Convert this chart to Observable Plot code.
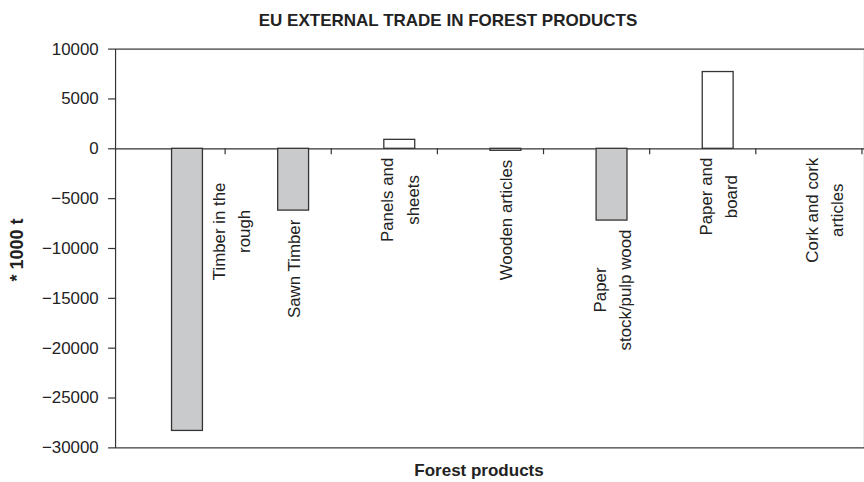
<!DOCTYPE html>
<html>
<head>
<meta charset="utf-8">
<script src="https://cdn.jsdelivr.net/npm/d3@7"></script>
<script src="https://cdn.jsdelivr.net/npm/@observablehq/plot@0.6"></script>
<style>
  html, body { margin: 0; padding: 0; background: #fff; }
  #wrap { position: relative; width: 864px; height: 482px; overflow: hidden; background: #fff;
          font-family: "Liberation Sans", Arial, sans-serif; color: #222; }
  #chart { position: absolute; left: 0; top: 0; }
  .lbl { position: absolute; font-weight: bold; line-height: 1; white-space: nowrap; color: #222; }
  #title { left: 148px; width: 600px; text-align: center; top: 11.5px; font-size: 17px; }
  #xlabel { left: 179px; width: 600px; text-align: center; top: 461.5px; font-size: 17px; }
  #ylabel { left: 17px; top: 250px; font-size: 18px; transform: translate(-50%, -50%) rotate(-90deg); }
</style>
</head>
<body>
<div id="wrap">
  <div id="chart"></div>
  <div class="lbl" id="title">EU EXTERNAL TRADE IN FOREST PRODUCTS</div>
  <div class="lbl" id="xlabel">Forest products</div>
  <div class="lbl" id="ylabel">* 1000 t</div>
</div>
<script>
// ---- data ----
const categories = [
  "Timber in the\nrough",
  "Sawn Timber",
  "Panels and\nsheets",
  "Wooden articles",
  "Paper\nstock/pulp wood",
  "Paper and\nboard",
  "Cork and cork\narticles"
];
const values = [-28300, -6200, 900, -200, -7200, 7700, 0];
const yTicks = [10000, 5000, 0, -5000, -10000, -15000, -20000, -25000, -30000];
const yDomain = [-30000, 10000];

// ---- layout ----
const W = 871, H = 482, mL = 116, mR = 0, mT = 49, mB = 31;
const bw = (W - mL - mR) / categories.length;
const barW = 32;
const font = "Liberation Sans";
const ink = "#222", line = "#333", gray = "#c9cacc";

const rows = categories.map((c, i) => ({cat: c, value: values[i]}));

// y scale for label placement
const yScale = Plot.scale({y: {domain: yDomain, range: [H - mB, mT]}});
const ctx = document.createElement("canvas").getContext("2d");
ctx.font = `17px "${font}"`;
const gap = 9;
const labels = rows.map(d => {
  const lines = d.cat.split("\n");
  const maxLen = Math.max(...lines.map(l => ctx.measureText(l).width));
  const beside = d.value <= -15000;
  const anchor = (d.value < 0 && !beside) ? d.value : 0;
  const topPx = yScale.apply(anchor) + gap;
  return {cat: d.cat, beside, yc: yScale.invert(topPx + maxLen / 2)};
});

const plot = Plot.plot({
  width: W, height: H,
  marginLeft: mL, marginRight: mR, marginTop: mT, marginBottom: mB,
  style: {fontFamily: font, fontSize: "17px", color: ink, background: "white"},
  x: {domain: categories, padding: 0, axis: null},
  y: {domain: yDomain, axis: null},
  marks: [
    Plot.frame({stroke: line, strokeWidth: 1.2}),
    Plot.axisY({ticks: yTicks, tickFormat: d3.format("d"), tickSize: 7, tickPadding: 10,
                fontSize: 17, fill: ink, stroke: line, strokeWidth: 1.2, label: null}),
    Plot.ruleY([0], {stroke: line, strokeWidth: 1.2}),
    Plot.barY(rows, {x: "cat", y: "value",
      fill: d => d.value < 0 ? gray : "white",
      stroke: line, strokeWidth: 1.3,
      insetLeft: bw / 2, insetRight: bw / 2 - barW}),
    Plot.ruleX(categories, {x: d => d, y1: 0, y2: 0, dx: bw / 2, insetBottom: -6,
      stroke: line, strokeWidth: 1.2}),
    Plot.text(labels.filter(d => !d.beside), {x: "cat", y: "yc", text: "cat",
      rotate: -90, textAnchor: "middle", lineAnchor: "middle", lineHeight: 1.5,
      fontSize: 17, fill: ink, dx: 14}),
    Plot.text(labels.filter(d => d.beside), {x: "cat", y: "yc", text: "cat",
      rotate: -90, textAnchor: "middle", lineAnchor: "middle", lineHeight: 1.5,
      fontSize: 17, fill: ink, dx: 58, dy: 25})
  ]
});
document.getElementById("chart").appendChild(plot);
</script>
</body>
</html>
